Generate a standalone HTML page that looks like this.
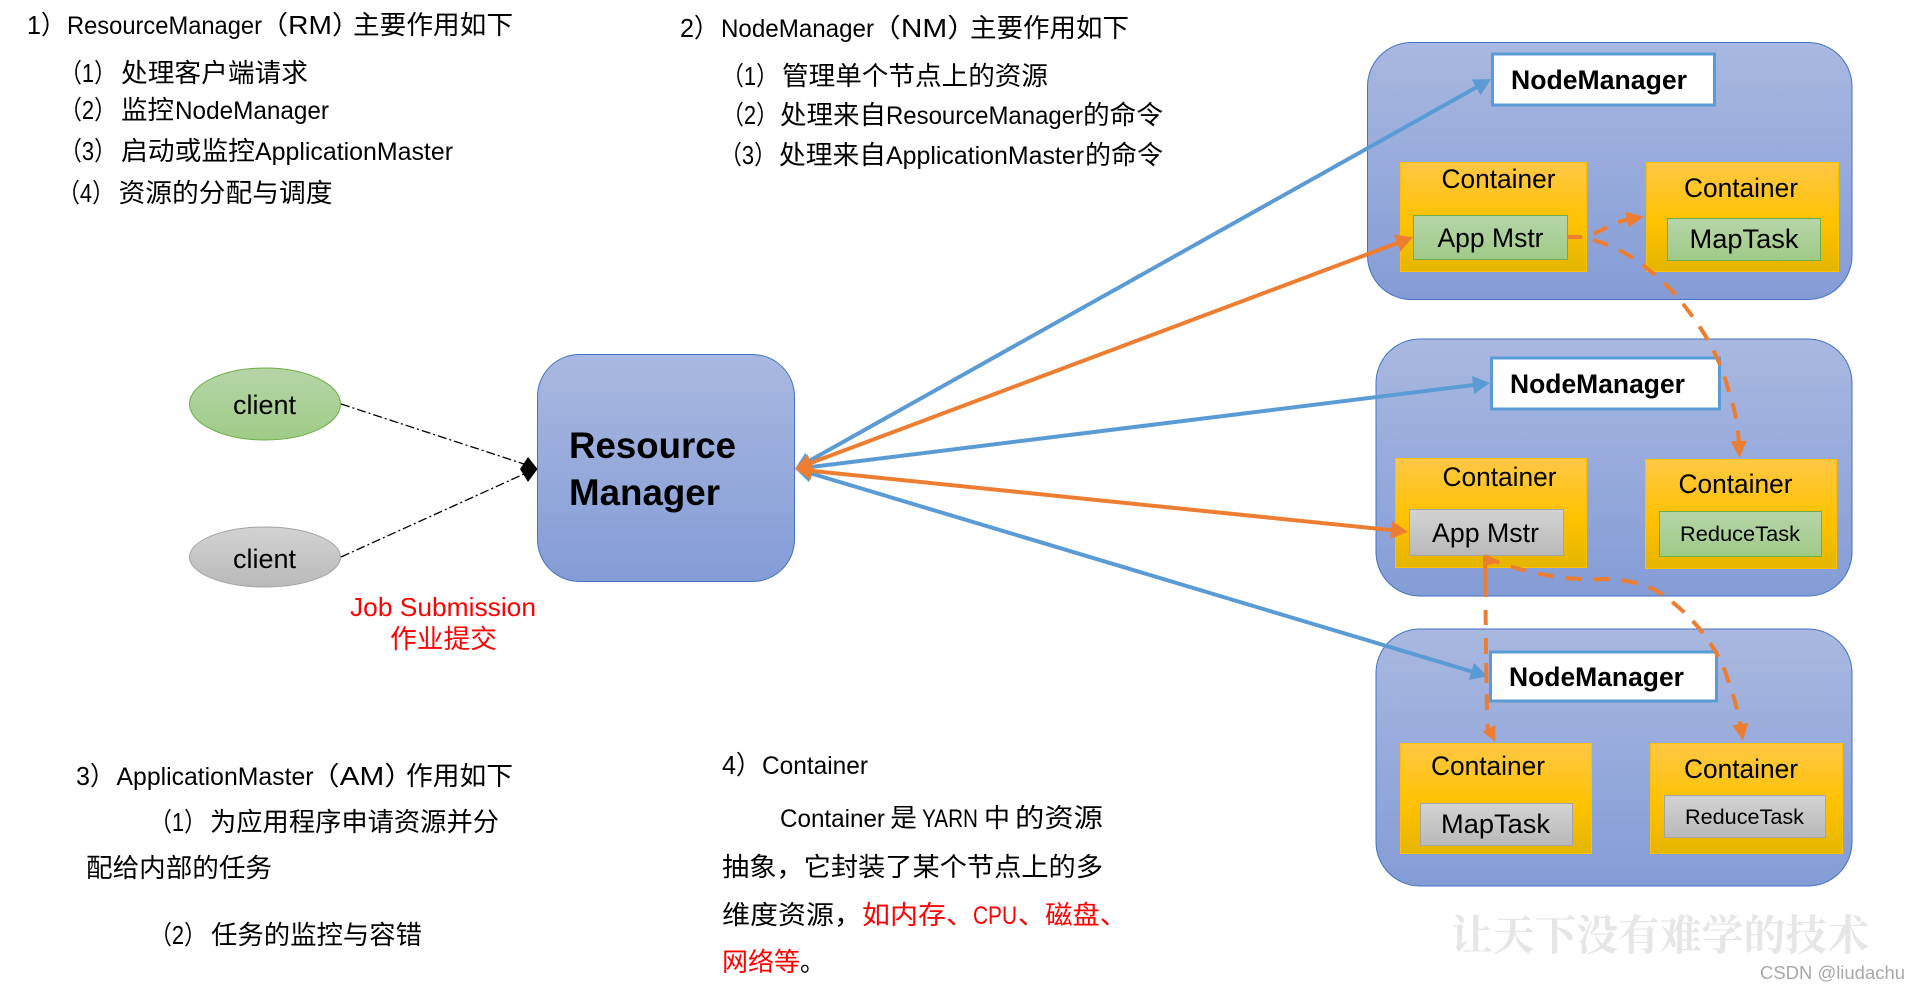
<!DOCTYPE html>
<html lang="zh"><head><meta charset="utf-8"><title>YARN</title>
<style>html,body{margin:0;padding:0;background:#fff;width:1920px;height:985px;overflow:hidden}svg{display:block}
text{font-family:"Liberation Sans","Noto Sans CJK SC",sans-serif;fill:#000}
.t{font-size:26px}.l{font-size:25px}.r{fill:#f00}.b{font-weight:bold}</style></head><body>
<svg width="1920" height="985" viewBox="0 0 1920 985" xmlns="http://www.w3.org/2000/svg">
<defs>
<linearGradient id="bl" x1="0" y1="0" x2="0" y2="1"><stop offset="0" stop-color="#a9b8e0"/><stop offset="1" stop-color="#849cd6"/></linearGradient>
<linearGradient id="or" x1="0" y1="0" x2="0" y2="1"><stop offset="0" stop-color="#ffc746"/><stop offset=".55" stop-color="#ffc200"/><stop offset="1" stop-color="#e5b500"/></linearGradient>
<linearGradient id="gr" x1="0" y1="0" x2="0" y2="1"><stop offset="0" stop-color="#b6d5a8"/><stop offset="1" stop-color="#9fcb87"/></linearGradient>
<linearGradient id="gy" x1="0" y1="0" x2="0" y2="1"><stop offset="0" stop-color="#d3d3d3"/><stop offset="1" stop-color="#b9b9b9"/></linearGradient>
<marker id="ab" markerUnits="userSpaceOnUse" markerWidth="20" markerHeight="20" refX="9" refY="9" orient="auto-start-reverse"><path d="M0,0 L17,9 L0,18 Z" fill="#5b9bd5"/></marker>
<marker id="ao" markerUnits="userSpaceOnUse" markerWidth="20" markerHeight="20" refX="9" refY="9" orient="auto-start-reverse"><path d="M0,0 L17,9 L0,18 Z" fill="#ed7d31"/></marker>
<marker id="ad" markerUnits="userSpaceOnUse" markerWidth="20" markerHeight="18" refX="4" refY="8" orient="auto"><path d="M0,0 L17,8 L0,16 Z" fill="#ed7d31"/></marker>
</defs>
<rect width="1920" height="985" fill="#fff"/>

<!-- RM section -->
<text class="t" x="27" y="34" textLength="39" lengthAdjust="spacingAndGlyphs">1）</text>
<text class="l" x="67" y="34" textLength="195" lengthAdjust="spacingAndGlyphs">ResourceManager</text>
<text class="t" x="260" y="34" textLength="100" lengthAdjust="spacingAndGlyphs">（RM）</text>
<text class="t" x="353" y="34" textLength="160" lengthAdjust="spacingAndGlyphs">主要作用如下</text>
<text class="t" x="60" y="82" textLength="56" lengthAdjust="spacingAndGlyphs">（1）</text>
<text class="t" x="121" y="82" textLength="187" lengthAdjust="spacingAndGlyphs">处理客户端请求</text>
<text class="t" x="60" y="119" textLength="56" lengthAdjust="spacingAndGlyphs">（2）</text>
<text class="t" x="121" y="119" textLength="53" lengthAdjust="spacingAndGlyphs">监控</text>
<text class="l" x="175" y="119" textLength="154" lengthAdjust="spacingAndGlyphs">NodeManager</text>
<text class="t" x="60" y="160" textLength="56" lengthAdjust="spacingAndGlyphs">（3）</text>
<text class="t" x="121" y="160" textLength="134" lengthAdjust="spacingAndGlyphs">启动或监控</text>
<text class="l" x="255" y="160" textLength="198" lengthAdjust="spacingAndGlyphs">ApplicationMaster</text>
<text class="t" x="58" y="202" textLength="56" lengthAdjust="spacingAndGlyphs">（4）</text>
<text class="t" x="118.500" y="202" textLength="214" lengthAdjust="spacingAndGlyphs">资源的分配与调度</text>

<!-- NM section -->
<text class="t" x="680" y="37" textLength="39" lengthAdjust="spacingAndGlyphs">2）</text>
<text class="l" x="721" y="37" textLength="153" lengthAdjust="spacingAndGlyphs">NodeManager</text>
<text class="t" x="871" y="37" textLength="106" lengthAdjust="spacingAndGlyphs">（NM）</text>
<text class="t" x="970" y="37" textLength="159" lengthAdjust="spacingAndGlyphs">主要作用如下</text>
<text class="t" x="722" y="85" textLength="56" lengthAdjust="spacingAndGlyphs">（1）</text>
<text class="t" x="782" y="85" textLength="266" lengthAdjust="spacingAndGlyphs">管理单个节点上的资源</text>
<text class="t" x="722" y="124" textLength="56" lengthAdjust="spacingAndGlyphs">（2）</text>
<text class="t" x="780" y="124" textLength="106" lengthAdjust="spacingAndGlyphs">处理来自</text>
<text class="l" x="886" y="124" textLength="197" lengthAdjust="spacingAndGlyphs">ResourceManager</text>
<text class="t" x="1083" y="124" textLength="80" lengthAdjust="spacingAndGlyphs">的命令</text>
<text class="t" x="720" y="164" textLength="56" lengthAdjust="spacingAndGlyphs">（3）</text>
<text class="t" x="779" y="164" textLength="107" lengthAdjust="spacingAndGlyphs">处理来自</text>
<text class="l" x="886" y="164" textLength="198" lengthAdjust="spacingAndGlyphs">ApplicationMaster</text>
<text class="t" x="1085" y="164" textLength="78" lengthAdjust="spacingAndGlyphs">的命令</text>

<!-- AM section -->
<text class="t" x="76" y="785" textLength="39" lengthAdjust="spacingAndGlyphs">3）</text>
<text class="l" x="116.500" y="785" textLength="197" lengthAdjust="spacingAndGlyphs">ApplicationMaster</text>
<text class="t" x="310" y="785" textLength="104" lengthAdjust="spacingAndGlyphs">（AM）</text>
<text class="t" x="406" y="785" textLength="107" lengthAdjust="spacingAndGlyphs">作用如下</text>
<text class="t" x="150" y="831" textLength="56" lengthAdjust="spacingAndGlyphs">（1）</text>
<text class="t" x="210" y="831" textLength="289" lengthAdjust="spacingAndGlyphs">为应用程序申请资源并分</text>
<text class="t" x="86" y="877" textLength="186" lengthAdjust="spacingAndGlyphs">配给内部的任务</text>
<text class="t" x="150" y="944" textLength="56" lengthAdjust="spacingAndGlyphs">（2）</text>
<text class="t" x="211" y="944" textLength="211" lengthAdjust="spacingAndGlyphs">任务的监控与容错</text>

<!-- Container section -->
<text class="t" x="722" y="774" textLength="39" lengthAdjust="spacingAndGlyphs">4）</text>
<text class="l" x="762" y="774" textLength="106" lengthAdjust="spacingAndGlyphs">Container</text>
<text class="l" x="780" y="827" textLength="105" lengthAdjust="spacingAndGlyphs">Container</text>
<text class="t" x="890" y="827" textLength="27" lengthAdjust="spacingAndGlyphs">是</text>
<text class="l" x="922" y="827" textLength="56" lengthAdjust="spacingAndGlyphs">YARN</text>
<text class="t" x="984" y="827" textLength="26" lengthAdjust="spacingAndGlyphs">中</text>
<text class="t" x="1015" y="827" textLength="88" lengthAdjust="spacingAndGlyphs">的资源</text>
<text class="t" x="722" y="876" textLength="381" lengthAdjust="spacingAndGlyphs">抽象，它封装了某个节点上的多</text>
<text class="t" x="722" y="924" textLength="140" lengthAdjust="spacingAndGlyphs">维度资源，</text>
<text class="t r" x="862" y="924" textLength="112" lengthAdjust="spacingAndGlyphs">如内存、</text>
<text class="l r" x="973" y="924" textLength="44" lengthAdjust="spacingAndGlyphs">CPU</text>
<text class="t r" x="1018" y="924" textLength="109" lengthAdjust="spacingAndGlyphs">、磁盘、</text>
<text class="t r" x="722" y="971" textLength="78" lengthAdjust="spacingAndGlyphs">网络等</text>
<text class="t" x="800" y="971" textLength="25" lengthAdjust="spacingAndGlyphs">。</text>

<!-- Clients and RM -->
<ellipse cx="265" cy="404" rx="75.500" ry="36" fill="url(#gr)" stroke="#70ad47" stroke-width="1"/>
<ellipse cx="265" cy="557" rx="75.500" ry="30" fill="url(#gy)" stroke="#a5a5a5" stroke-width="1"/>
<text x="233" y="414" font-size="27" textLength="63" lengthAdjust="spacingAndGlyphs">client</text>
<text x="233" y="568" font-size="27" textLength="63" lengthAdjust="spacingAndGlyphs">client</text>
<rect x="537.500" y="354.500" width="257" height="227" rx="42" fill="url(#bl)" stroke="#4472c4" stroke-width="1"/>
<text class="b" x="569" y="458" font-size="37" textLength="167" lengthAdjust="spacingAndGlyphs">Resource</text>
<text class="b" x="569" y="505" font-size="37" textLength="151" lengthAdjust="spacingAndGlyphs">Manager</text>
<text class="r" x="350" y="616" font-size="26" textLength="186" lengthAdjust="spacingAndGlyphs">Job Submission</text>
<text class="r" x="390" y="648" font-size="26" textLength="107" lengthAdjust="spacingAndGlyphs">作业提交</text>
<path d="M341,404 L524,464" stroke="#000" stroke-width="1.300" stroke-dasharray="9 3 2 3" fill="none"/>
<path d="M341,557 L524,474" stroke="#000" stroke-width="1.300" stroke-dasharray="9 3 2 3" fill="none"/>
<path d="M537.500,469 L528,457 L520,469 L528,482 Z" fill="#000"/>

<!-- Node boxes -->
<rect x="1367.500" y="42.500" width="484.500" height="257" rx="44" fill="url(#bl)" stroke="#4472c4"/>
<rect x="1376" y="339" width="476" height="257" rx="44" fill="url(#bl)" stroke="#4472c4"/>
<rect x="1376" y="629" width="476" height="257" rx="44" fill="url(#bl)" stroke="#4472c4"/>

<!-- NodeManagers -->
<rect x="1492.500" y="54" width="222" height="51" fill="#fff" stroke="#5b9bd5" stroke-width="3"/>
<rect x="1491.500" y="358" width="228" height="51" fill="#fff" stroke="#5b9bd5" stroke-width="3"/>
<rect x="1490.500" y="652" width="226" height="49" fill="#fff" stroke="#5b9bd5" stroke-width="3"/>
<text class="b" x="1511" y="89" font-size="27" textLength="176" lengthAdjust="spacingAndGlyphs">NodeManager</text>
<text class="b" x="1510" y="393" font-size="27" textLength="175" lengthAdjust="spacingAndGlyphs">NodeManager</text>
<text class="b" x="1509" y="686" font-size="27" textLength="175" lengthAdjust="spacingAndGlyphs">NodeManager</text>

<!-- Containers -->
<g stroke="#ffc000" stroke-width="1" fill="url(#or)">
<rect x="1400.500" y="162.500" width="186" height="109"/>
<rect x="1646.500" y="162.500" width="192" height="109"/>
<rect x="1395.500" y="458.500" width="191" height="109"/>
<rect x="1645.500" y="459.500" width="191" height="109"/>
<rect x="1400.500" y="743.500" width="191" height="110"/>
<rect x="1650.500" y="743.500" width="192" height="110"/>
</g>
<g stroke="#70ad47" stroke-width="1" fill="url(#gr)">
<rect x="1413.500" y="215.500" width="154" height="44"/>
<rect x="1667.500" y="218.500" width="153" height="42"/>
<rect x="1659.500" y="511.500" width="162" height="45"/>
</g>
<g stroke="#a5a5a5" stroke-width="1" fill="url(#gy)">
<rect x="1409.500" y="509.500" width="154" height="46"/>
<rect x="1420.500" y="803.500" width="152" height="42"/>
<rect x="1664.500" y="795.500" width="161" height="42"/>
</g>
<text x="1441.500" y="188" font-size="26.500" textLength="114" lengthAdjust="spacingAndGlyphs">Container</text>
<text x="1684" y="197" font-size="26.500" textLength="114" lengthAdjust="spacingAndGlyphs">Container</text>
<text x="1442.500" y="486" font-size="26.500" textLength="114" lengthAdjust="spacingAndGlyphs">Container</text>
<text x="1678.500" y="493" font-size="26.500" textLength="114" lengthAdjust="spacingAndGlyphs">Container</text>
<text x="1431" y="775" font-size="26.500" textLength="114" lengthAdjust="spacingAndGlyphs">Container</text>
<text x="1684" y="778" font-size="26.500" textLength="114" lengthAdjust="spacingAndGlyphs">Container</text>
<text x="1437.500" y="247" font-size="27" textLength="106" lengthAdjust="spacingAndGlyphs">App Mstr</text>
<text x="1432" y="542" font-size="27" textLength="107" lengthAdjust="spacingAndGlyphs">App Mstr</text>
<text x="1689.500" y="248" font-size="27" textLength="109" lengthAdjust="spacingAndGlyphs">MapTask</text>
<text x="1441" y="833" font-size="27" textLength="109" lengthAdjust="spacingAndGlyphs">MapTask</text>
<text x="1680" y="541" font-size="21" textLength="120" lengthAdjust="spacingAndGlyphs">ReduceTask</text>
<text x="1685" y="824" font-size="21" textLength="119" lengthAdjust="spacingAndGlyphs">ReduceTask</text>

<!-- Hub arrows -->
<g fill="none" stroke-width="4">
<line x1="802" y1="465" x2="1484" y2="83" stroke="#5b9bd5" marker-start="url(#ab)" marker-end="url(#ab)"/>
<line x1="803" y1="468" x2="1482" y2="384" stroke="#5b9bd5" marker-start="url(#ab)" marker-end="url(#ab)"/>
<line x1="803" y1="471" x2="1480" y2="674" stroke="#5b9bd5" marker-start="url(#ab)" marker-end="url(#ab)"/>
<line x1="802.500" y1="466" x2="1405.500" y2="240" stroke="#ed7d31" marker-start="url(#ao)" marker-end="url(#ao)"/>
<line x1="803" y1="470" x2="1400" y2="531" stroke="#ed7d31" marker-start="url(#ao)" marker-end="url(#ao)"/>
</g>

<!-- Dashed arrows -->
<g fill="none" stroke="#ed7d31" stroke-width="4">
<path stroke-dasharray="15 12" d="M1567,237 L1581,237 Q1594,235 1607,227 Q1615,222 1631,219" marker-end="url(#ad)"/>
<path stroke-dasharray="16 12" d="M1593,240 Q1612,245 1633,258 Q1656,274 1676,295 Q1694,317 1708,340 Q1722,365 1729,392 Q1738,418 1739,445" marker-end="url(#ad)"/>
<path stroke-dasharray="16 12" d="M1485,556 Q1510,570 1564,578 Q1590,580 1605,579 Q1640,580 1660,593 Q1685,610 1702,632 Q1720,655 1727,677 Q1738,708 1741,728" marker-end="url(#ad)"/>
<path stroke-dasharray="41 13 15 13 16 9 20 11 16 14 12" d="M1485,556 L1486,650 L1487,710 L1488,735"/>
</g>
<path d="M1485,554 L1483,566 L1497,563 Z" fill="#ed7d31"/>
<path d="M1482.500,731.700 L1495.400,725 L1495.400,741.700 Z" fill="#ed7d31"/>

<!-- Watermark -->
<text x="1451" y="950" font-size="42" textLength="418" lengthAdjust="spacingAndGlyphs" style="font-family:'Noto Serif CJK SC',serif;font-weight:bold;fill:#e6e6e6">让天下没有难学的技术</text>
<text x="1760" y="979" font-size="18" textLength="145" lengthAdjust="spacingAndGlyphs" style="fill:#a8a8a8">CSDN @liudachu</text>
</svg>
</body></html>
